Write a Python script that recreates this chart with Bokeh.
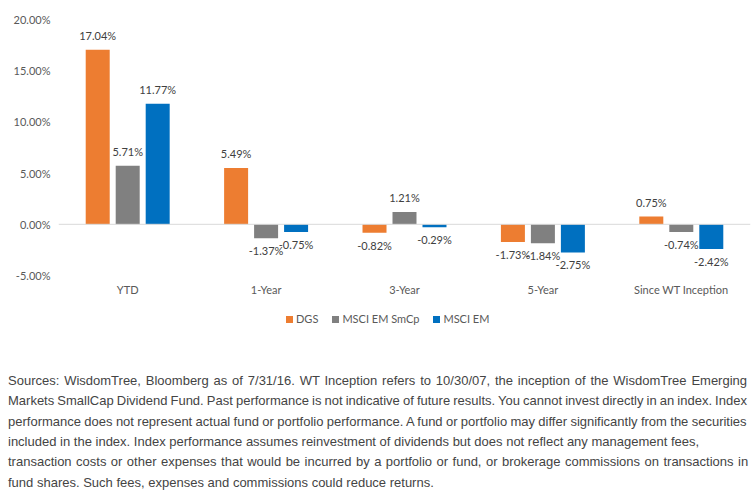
from bokeh.plotting import figure
from bokeh.models import (ColumnDataSource, FactorRange, Range1d, Span,
                          PrintfTickFormatter, FixedTicker, Div)
from bokeh.layouts import column
from bokeh.transform import dodge
from bokeh.embed import file_html
from bokeh.resources import INLINE
from bokeh.core.properties import value
import html

# ---------------- data ----------------
categories = ["YTD", "1-Year", "3-Year", "5-Year", "Since WT Inception"]
series_names = ["DGS", "MSCI EM SmCp", "MSCI EM"]
dgs = [17.04, 5.49, -0.82, -1.73, 0.75]
msci_em_smcp = [5.71, -1.37, 1.21, -1.84, -0.74]
msci_em = [11.77, -0.75, -0.29, -2.75, -2.42]
series_values = [dgs, msci_em_smcp, msci_em]
series_colors = ["#ED7D31", "#808080", "#0070C0"]
y_ticks = [-5, 0, 5, 10, 15, 20]

footnote_lines = [
    "Sources: WisdomTree, Bloomberg as of 7/31/16. WT Inception refers to 10/30/07, the inception of the WisdomTree Emerging",
    "Markets SmallCap Dividend Fund. Past performance is not indicative of future results. You cannot invest directly in an index. Index",
    "performance does not represent actual fund or portfolio performance. A fund or portfolio may differ significantly from the securities",
    "included in the index. Index performance assumes reinvestment of dividends but does not reflect any management fees,",
    "transaction costs or other expenses that would be incurred by a portfolio or fund, or brokerage commissions on transactions in",
    "fund shares. Such fees, expenses and commissions could reduce returns.",
]
footnote_justified = [True, True, True, False, True, False]

# ---------------- styles / layout ----------------
CHART_FONT = "Lato"
CHART_SIZE = "11px"
NOTE_FONT = "Liberation Sans"
NOTE_SIZE = 13
W, H1 = 755, 300
H2 = 498 - H1
FL, FR, FT, FB = 58, 750, 19, 275   # frame edges in page pixels

p = figure(x_range=FactorRange(*categories), y_range=Range1d(-5, 20),
           width=W, height=H1, output_backend="svg", toolbar_location=None,
           min_border_left=FL, min_border_right=W - FR, min_border_top=FT,
           min_border_bottom=H1 - FB)
p.x_range.range_padding = 0
p.grid.visible = False
p.outline_line_color = None
p.background_fill_color = "white"
p.border_fill_color = "white"

p.yaxis.ticker = FixedTicker(ticks=y_ticks)
p.yaxis.formatter = PrintfTickFormatter(format="%.2f%%")
for ax in (p.xaxis[0], p.yaxis[0]):
    ax.axis_line_color = None
    ax.major_tick_line_color = None
    ax.minor_tick_line_color = None
    ax.major_tick_out = 0
    ax.major_tick_in = 0
    ax.major_label_text_font = CHART_FONT
    ax.major_label_text_font_size = CHART_SIZE
    ax.major_label_text_color = "#595959"
p.yaxis.major_label_standoff = 8
p.xaxis.major_label_standoff = 7

p.add_layout(Span(location=0, dimension="width", line_color="#D9D9D9", line_width=1))

offsets = [-0.2167, 0.0, 0.2167]
bar_w = 0.1734
for name, vals, col, off in zip(series_names, series_values, series_colors, offsets):
    src = ColumnDataSource(dict(
        cat=categories, v=vals,
        label=["%.2f%%" % v for v in vals],
        base=["bottom" if v >= 0 else "top" for v in vals],
        yoff=[-8 if v >= 0 else 6 for v in vals],
    ))
    p.vbar(x=dodge("cat", off, range=p.x_range), top="v", bottom=0,
           width=bar_w, source=src, fill_color=col, line_color=None)
    p.text(x=dodge("cat", off, range=p.x_range), y="v", text="label", source=src,
           text_align="center", text_baseline="base", y_offset="yoff",
           text_font=value(CHART_FONT), text_font_size=CHART_SIZE, text_color="#404040")

# ---------------- legend + footnote (below the chart) ----------------
_AW = {' ': 278, '!': 278, '%': 889, '(': 333, ')': 333, ',': 278, '-': 333, '.': 278,
       '/': 278, ':': 278, ';': 278,
       'A': 667, 'B': 667, 'C': 722, 'D': 722, 'E': 667, 'F': 611, 'G': 778, 'H': 722,
       'I': 278, 'J': 500, 'K': 667, 'L': 556, 'M': 833, 'N': 722, 'O': 778, 'P': 667,
       'Q': 778, 'R': 722, 'S': 667, 'T': 611, 'U': 722, 'V': 667, 'W': 944, 'X': 667,
       'Y': 667, 'Z': 611,
       'a': 556, 'b': 556, 'c': 500, 'd': 556, 'e': 556, 'f': 278, 'g': 556, 'h': 556,
       'i': 222, 'j': 222, 'k': 500, 'l': 222, 'm': 833, 'n': 556, 'o': 556, 'p': 556,
       'q': 556, 'r': 333, 's': 500, 't': 278, 'u': 556, 'v': 500, 'w': 722, 'x': 500,
       'y': 500, 'z': 500}


def text_width(s):
    return sum(_AW.get(ch, 556) for ch in s) * NOTE_SIZE / 1000.0


legend_items = "".join(
    '<span style="display:inline-block;width:7px;height:7px;background:%s;'
    'margin-right:3px;vertical-align:middle;"></span>'
    '<span style="display:inline-block;margin-right:14px;vertical-align:middle;">%s</span>'
    % (c, html.escape(n)) for n, c in zip(series_names, series_colors))
legend_html = ('<div style="position:absolute;left:286px;top:%dpx;height:14px;line-height:14px;'
               'white-space:nowrap;font-family:\'%s\';font-size:%s;color:#595959;">%s</div>'
               % (318 - H1 - 7, CHART_FONT, CHART_SIZE, legend_items))

TEXT_W = 740.0
line_gap = 20.4
rows = []
for line, just in zip(footnote_lines, footnote_justified):
    ws = 0.0
    if just:
        ws = (TEXT_W - text_width(line)) / line.count(" ")
    spans = " ".join("<span>%s</span>" % html.escape(w) for w in line.split(" "))
    rows.append('<div style="white-space:nowrap;height:%.1fpx;line-height:%.1fpx;'
                'word-spacing:%.2fpx;">%s</div>' % (line_gap, line_gap, ws, spans))

note_html = ('<div style="position:absolute;left:8px;top:%.1fpx;font-family:\'%s\';'
             'font-size:%dpx;color:#444444;">%s</div>'
             % (381 - H1 - line_gap / 2, NOTE_FONT, NOTE_SIZE, "".join(rows)))

below = Div(text='<div style="position:relative;width:%dpx;height:%dpx;">%s%s</div>'
            % (W, H2, legend_html, note_html), width=W, height=H2, margin=0)

layout = column(p, below, spacing=0)
open("out.html", "w").write(file_html(layout, INLINE))
